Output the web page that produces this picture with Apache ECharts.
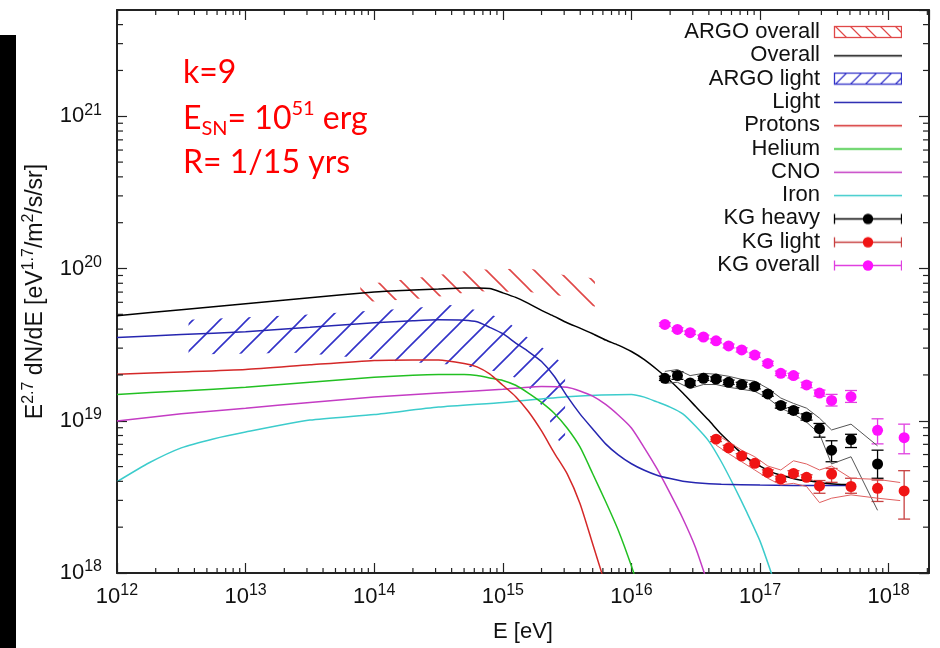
<!DOCTYPE html>
<html>
<head>
<meta charset="utf-8">
<title>E^2.7 dN/dE</title>
<script src="https://cdn.jsdelivr.net/npm/echarts@6.0.0/dist/echarts.min.js"></script>
<style>
html,body{margin:0;padding:0;background:#fff;}
#chart{width:940px;height:648px;}
</style>
</head>
<body>
<div id="chart"></div>
<script>
var FONT = '"Liberation Sans", Arial, sans-serif';
var X_MIN = 1e12, X_MAX = 2.06e18;
var Y_MIN = 1e18, Y_MAX = 4.99e21;

// model curves
var overallE    = [1e12, 3.16e12, 1e13, 3.16e13, 1e14, 2e14, 3.16e14, 5e14, 6.3e14, 7.9e14, 1e15, 1.26e15, 1.58e15, 2e15, 2.51e15, 3.16e15, 3.98e15, 5e15, 6.3e15, 7.9e15, 1e16, 1.26e16, 1.58e16, 2e16, 2.51e16, 3.16e16, 3.98e16, 5e16, 6.3e16, 7.9e16, 1e17, 1.26e17, 1.58e17, 2e17, 2.51e17, 3.16e17, 3.98e17, 5e17];
var overallFlux = [4.9e19, 5.36e19, 5.87e19, 6.42e19, 7.02e19, 7.23e19, 7.34e19, 7.45e19, 7.45e19, 7.38e19, 6.92e19, 6.46e19, 5.9e19, 5.31e19, 4.85e19, 4.4e19, 4.06e19, 3.73e19, 3.39e19, 3.14e19, 2.85e19, 2.52e19, 2.17e19, 1.83e19, 1.52e19, 1.24e19, 1.01e19, 8.15e18, 6.76e18, 5.71e18, 5.03e18, 4.56e18, 4.3e18, 4.1e18, 4.01e18, 3.89e18, 3.83e18, 3.81e18];

var lightCurveE    = [1e12, 3.16e12, 1e13, 3.16e13, 1e14, 2e14, 3.16e14, 5e14, 6.3e14, 7.9e14, 1e15, 1.26e15, 1.58e15, 2e15, 2.51e15, 3.16e15, 3.98e15, 5e15, 6.3e15, 7.9e15, 1e16, 1.26e16, 1.58e16, 2e16, 2.51e16, 3.16e16, 5e16, 1e17, 3.16e17, 5e17];
var lightCurveFlux = [3.52e19, 3.68e19, 3.85e19, 4.11e19, 4.4e19, 4.54e19, 4.61e19, 4.58e19, 4.47e19, 4.11e19, 3.73e19, 3.24e19, 2.85e19, 2.45e19, 1.96e19, 1.45e19, 1.11e19, 8.83e18, 7.05e18, 5.97e18, 5.22e18, 4.73e18, 4.39e18, 4.17e18, 4.01e18, 3.92e18, 3.83e18, 3.78e18, 3.75e18, 3.75e18];

var protonE    = [1e12, 3.16e12, 1e13, 3.16e13, 1e14, 2e14, 3.16e14, 5e14, 6.3e14, 7.9e14, 1e15, 1.26e15, 1.58e15, 2e15, 2.51e15, 3.16e15, 3.98e15, 5e15, 6.3e15];
var protonFlux = [2.02e19, 2.09e19, 2.17e19, 2.33e19, 2.49e19, 2.51e19, 2.51e19, 2.38e19, 2.26e19, 2.03e19, 1.71e19, 1.44e19, 1.15e19, 8.57e18, 6.15e18, 4.49e18, 2.86e18, 1.55e18, 8.3e17];

var heliumE    = [1e12, 3.16e12, 1e13, 3.16e13, 1e14, 2e14, 3.16e14, 5e14, 6.3e14, 7.9e14, 1e15, 1.26e15, 1.58e15, 2e15, 2.51e15, 3.16e15, 3.98e15, 5e15, 6.3e15, 7.9e15, 1e16, 1.26e16];
var heliumFlux = [1.49e19, 1.57e19, 1.66e19, 1.79e19, 1.93e19, 1.99e19, 2.01e19, 2.01e19, 1.98e19, 1.91e19, 1.84e19, 1.71e19, 1.52e19, 1.32e19, 1.12e19, 8.96e18, 6.73e18, 4.49e18, 2.95e18, 1.91e18, 1.11e18, 6.1e17];

var cnoE    = [1e12, 3.16e12, 1e13, 3.16e13, 1e14, 3.16e14, 1e15, 2e15, 3.16e15, 3.98e15, 5e15, 6.3e15, 7.9e15, 1e16, 1.26e16, 1.58e16, 2e16, 2.51e16, 3.16e16, 3.98e16];
var cnoFlux = [9.95e18, 1.11e19, 1.21e19, 1.32e19, 1.43e19, 1.52e19, 1.61e19, 1.68e19, 1.66e19, 1.57e19, 1.45e19, 1.28e19, 1.09e19, 8.96e18, 6.64e18, 4.84e18, 3.33e18, 2.28e18, 1.46e18, 8.2e17];

var ironE    = [1e12, 1.78e12, 3.16e12, 5.6e12, 1e13, 3.16e13, 1e14, 3.16e14, 1e15, 3.16e15, 1e16, 1.26e16, 1.58e16, 2e16, 2.51e16, 3.16e16, 3.98e16, 5e16, 6.3e16, 7.9e16, 1e17, 1.26e17];
var ironFlux = [3.98e18, 5.3e18, 6.64e18, 7.6e18, 8.44e18, 1.01e19, 1.1e19, 1.23e19, 1.32e19, 1.44e19, 1.49e19, 1.43e19, 1.33e19, 1.23e19, 1.11e19, 9.2e18, 7.38e18, 5.38e18, 3.7e18, 2.5e18, 1.62e18, 9.3e17];

// ARGO bands
var argoAllE    = [7.8e13, 2.7e14, 6e14, 1.6e15, 2.9e15, 5.2e15];
var argoAllLow  = [6.0e19, 6.4e19, 7.1e19, 7.0e19, 6.6e19, 5.6e19];
var argoAllHigh = [7.8e19, 8.9e19, 9.8e19, 1.0e20, 9.1e19, 8.6e19];

var argoLightE    = [3.6e12, 2.65e13, 1.58e14, 3.88e14, 6.65e14, 1.04e15, 1.49e15, 2.13e15, 3.05e15];
var argoLightLow  = [2.72e19, 2.8e19, 2.45e19, 2.34e19, 2.21e19, 2.05e19, 1.79e19, 1.17e19, 5.97e18];
var argoLightHigh = [4.6e19, 4.96e19, 5.43e19, 5.77e19, 5.27e19, 4.6e19, 3.62e19, 2.94e19, 2.31e19];

// KASCADE-Grande points
var kgAllE    = [1.82e16, 2.28e16, 2.86e16, 3.63e16, 4.55e16, 5.7e16, 7.2e16, 9.1e16, 1.15e17, 1.45e17, 1.82e17, 2.3e17, 2.9e17, 3.6e17, 5.1e17, 8.2e17, 1.32e18];
var kgAllFlux = [4.29e19, 3.98e19, 3.79e19, 3.55e19, 3.35e19, 3.10e19, 2.92e19, 2.70e19, 2.38e19, 2.05e19, 1.98e19, 1.72e19, 1.52e19, 1.36e19, 1.44e19, 8.65e18, 7.74e18];
var kgAllLo   = [4.18e19, 3.88e19, 3.69e19, 3.45e19, 3.25e19, 3.01e19, 2.83e19, 2.61e19, 2.30e19, 1.98e19, 1.91e19, 1.65e19, 1.45e19, 1.25e19, 1.32e19, 7.05e18, 6.07e18];
var kgAllHi   = [4.40e19, 4.08e19, 3.89e19, 3.65e19, 3.45e19, 3.19e19, 3.01e19, 2.79e19, 2.46e19, 2.12e19, 2.05e19, 1.79e19, 1.59e19, 1.49e19, 1.58e19, 1.03e19, 9.5e18];

var kgHeavyE    = [1.82e16, 2.28e16, 2.86e16, 3.63e16, 4.55e16, 5.7e16, 7.2e16, 9.1e16, 1.15e17, 1.45e17, 1.82e17, 2.3e17, 2.9e17, 3.6e17, 5.1e17, 8.2e17];
var kgHeavyFlux = [1.90e19, 1.98e19, 1.77e19, 1.90e19, 1.88e19, 1.79e19, 1.73e19, 1.68e19, 1.50e19, 1.26e19, 1.17e19, 1.06e19, 8.87e18, 6.41e18, 7.52e18, 5.2e18];
var kgHeavyLo   = [1.84e19, 1.87e19, 1.71e19, 1.84e19, 1.82e19, 1.73e19, 1.67e19, 1.62e19, 1.45e19, 1.21e19, 1.12e19, 1.01e19, 7.8e18, 5.38e18, 6.67e18, 4.19e18];
var kgHeavyHi   = [1.96e19, 2.10e19, 1.83e19, 1.96e19, 1.94e19, 1.85e19, 1.79e19, 1.74e19, 1.55e19, 1.31e19, 1.22e19, 1.11e19, 9.6e18, 7.39e18, 8.15e18, 6.41e18];
var kgHeavySysHi = [2.11e19, 2.17e19, 1.98e19, 2.05e19, 2.02e19, 1.96e19, 1.87e19, 1.82e19, 1.63e19, 1.41e19, 1.30e19, 1.21e19, 1.04e19, 8.7e18, 9.5e18, 6.84e18];
var kgHeavySysLo = [1.76e19, 1.79e19, 1.63e19, 1.73e19, 1.73e19, 1.66e19, 1.61e19, 1.56e19, 1.41e19, 1.21e19, 1.11e19, 9.8e18, 8.2e18, 5.2e18, 5.8e18, 2.58e18];

var kgLightE    = [4.55e16, 5.7e16, 7.2e16, 9.1e16, 1.15e17, 1.45e17, 1.82e17, 2.3e17, 2.9e17, 3.6e17, 5.1e17, 8.2e17, 1.32e18];
var kgLightFlux = [7.57e18, 6.64e18, 5.86e18, 5.25e18, 4.58e18, 4.15e18, 4.51e18, 4.25e18, 3.73e18, 4.47e18, 3.70e18, 3.6e18, 3.46e18];
var kgLightLo   = [7.3e18, 6.4e18, 5.65e18, 5.05e18, 4.4e18, 3.98e18, 4.33e18, 4.08e18, 3.34e18, 3.94e18, 3.34e18, 2.95e18, 2.26e18];
var kgLightHi   = [7.85e18, 6.9e18, 6.08e18, 5.45e18, 4.76e18, 4.32e18, 4.7e18, 4.42e18, 4.05e18, 4.86e18, 4.19e18, 4.08e18, 4.7e18];
var kgLightSysE  = [4.55e16, 5.7e16, 7.2e16, 9.1e16, 1.15e17, 1.45e17, 1.82e17, 2.3e17, 2.9e17, 3.6e17, 5.1e17, 8.2e17, 1.23e18];
var kgLightSysHi = [8.15e18, 7.26e18, 6.41e18, 5.80e18, 5.04e18, 4.75e18, 5.46e18, 5.2e18, 4.75e18, 5.04e18, 4.19e18, 4.12e18, 3.93e18];
var kgLightSysLo = [6.92e18, 6.09e18, 5.38e18, 4.75e18, 4.19e18, 3.79e18, 3.88e18, 3.70e18, 2.9e18, 3.10e18, 3.26e18, 3.10e18, 2.99e18];

var C = {
	argoAll: '#e04848', overall: '#000000', argoLight: '#3232c8', light: '#2626b0',
	proton: '#d42828', helium: '#22c022', cno: '#c43cc4', iron: '#3ccccc',
	heavy: '#000000', kgLight: '#f01414', kgLightBar: '#c84040', kgAll: '#ff10ff', kgAllBar: '#e040e0'
};

function pairs(xs, ys) {
	return xs.map(function (x, i) { return [x, ys[i]]; });
}

// hatch tile for the ARGO bands
function hatchTile(color, size, dir) {
	var c = document.createElement('canvas');
	c.width = size; c.height = size;
	var ctx = c.getContext('2d');
	ctx.strokeStyle = color;
	ctx.lineWidth = 1.6;
	ctx.beginPath();
	if (dir === '/') {
		ctx.moveTo(-2, size + 2); ctx.lineTo(size + 2, -2);
		ctx.moveTo(-2, 2); ctx.lineTo(2, -2);
		ctx.moveTo(size - 2, size + 2); ctx.lineTo(size + 2, size - 2);
	} else {
		ctx.moveTo(-2, -2); ctx.lineTo(size + 2, size + 2);
		ctx.moveTo(size - 2, -2); ctx.lineTo(size + 2, 2);
		ctx.moveTo(-2, size - 2); ctx.lineTo(2, size + 2);
	}
	ctx.stroke();
	return c;
}

function legendIcon(kind, color, barColor) {
	var c = document.createElement('canvas');
	c.width = 77; c.height = 14;
	var ctx = c.getContext('2d');
	var x0 = 9, x1 = 77;
	ctx.strokeStyle = color;
	ctx.lineWidth = 1.3;
	if (kind === 'line') {
		ctx.beginPath(); ctx.moveTo(x0, 7.5); ctx.lineTo(x1, 7.5); ctx.stroke();
	} else if (kind === '/' || kind === '\\') {
		ctx.strokeRect(x0 + 0.5, 1.5, x1 - x0 - 1, 11);
		ctx.save();
		ctx.beginPath(); ctx.rect(x0 + 1, 2, x1 - x0 - 2, 10); ctx.clip();
		ctx.beginPath();
		for (var x = x0 - 14; x < x1 + 14; x += 15) {
			if (kind === '/') { ctx.moveTo(x, 13); ctx.lineTo(x + 12, 1); }
			else { ctx.moveTo(x, 1); ctx.lineTo(x + 12, 13); }
		}
		ctx.stroke();
		ctx.restore();
	} else {
		ctx.strokeStyle = barColor;
		ctx.beginPath();
		ctx.moveTo(x0 + 0.5, 7.5); ctx.lineTo(x1 - 0.5, 7.5);
		ctx.moveTo(x0 + 0.5, 2.5); ctx.lineTo(x0 + 0.5, 12.5);
		ctx.moveTo(x1 - 0.5, 2.5); ctx.lineTo(x1 - 0.5, 12.5);
		ctx.stroke();
		ctx.fillStyle = color;
		ctx.beginPath(); ctx.arc((x0 + x1) / 2, 7.5, 5.2, 0, Math.PI * 2); ctx.fill();
	}
	return 'image://' + c.toDataURL();
}

function bandRenderer(E, lo, hi, pattern) {
	return function (params, api) {
		if (params.dataIndex !== 0) return;
		var pts = [];
		for (var i = 0; i < E.length; i++) pts.push(api.coord([E[i], hi[i]]));
		for (i = E.length - 1; i >= 0; i--) pts.push(api.coord([E[i], lo[i]]));
		return { type: 'polygon', shape: { points: pts }, style: { fill: pattern, stroke: null } };
	};
}

function errRenderer(color) {
	return function (params, api) {
		var x = api.value(0);
		var lo = api.coord([x, api.value(2)]);
		var hi = api.coord([x, api.value(3)]);
		var c = 6;
		var st = { stroke: color, lineWidth: 1.3 };
		return { type: 'group', children: [
			{ type: 'line', shape: { x1: lo[0], y1: lo[1], x2: hi[0], y2: hi[1] }, style: st },
			{ type: 'line', shape: { x1: lo[0] - c, y1: lo[1], x2: lo[0] + c, y2: lo[1] }, style: st },
			{ type: 'line', shape: { x1: hi[0] - c, y1: hi[1], x2: hi[0] + c, y2: hi[1] }, style: st }
		]};
	};
}

// log minor ticks (2..9) on all four sides
function renderMinorTicks(params, api) {
	var st = { stroke: '#222', lineWidth: 1.2 };
	var kids = [];
	var len = 5, n, k, e, a, b;
	for (n = 12; n <= 18; n++) {
		for (k = 2; k <= 9; k++) {
			e = k * Math.pow(10, n);
			if (e >= X_MAX) continue;
			a = api.coord([e, Y_MIN]); b = api.coord([e, Y_MAX]);
			kids.push({ type: 'line', shape: { x1: a[0], y1: a[1], x2: a[0], y2: a[1] - len }, style: st });
			kids.push({ type: 'line', shape: { x1: b[0], y1: b[1], x2: b[0], y2: b[1] + len }, style: st });
		}
	}
	for (n = 18; n <= 21; n++) {
		for (k = 2; k <= 9; k++) {
			e = k * Math.pow(10, n);
			if (e >= Y_MAX) continue;
			a = api.coord([X_MIN, e]); b = api.coord([X_MAX, e]);
			kids.push({ type: 'line', shape: { x1: a[0], y1: a[1], x2: a[0] + len + 1, y2: a[1] }, style: st });
			kids.push({ type: 'line', shape: { x1: b[0], y1: b[1], x2: b[0] - len - 1, y2: b[1] }, style: st });
		}
	}
	return { type: 'group', children: kids };
}

function powLabel(v) {
	var p = Math.log10(v);
	var n = Math.round(p);
	if (Math.abs(p - n) > 1e-6) return '';
	return '{b|10}{s|' + n + '}';
}

var tickRich = {
	b: { fontSize: 22, fontFamily: FONT, color: '#111', lineHeight: 28 },
	s: { fontSize: 16, fontFamily: FONT, color: '#111', lineHeight: 14, verticalAlign: 'top' }
};
var axisLineStyle = { color: '#222', width: 2 };
var majorTick = { inside: true, length: 10, lineStyle: { color: '#222', width: 1.2 } };

var RED_FONT = 'Lato, "Open Sans", sans-serif';
var redRich = {
	m: { fontSize: 32, fontFamily: RED_FONT, fill: '#ff0000', lineHeight: 40 },
	sub: { fontSize: 20, fontFamily: RED_FONT, fill: '#ff0000', lineHeight: 20, verticalAlign: 'bottom' },
	sup: { fontSize: 20, fontFamily: RED_FONT, fill: '#ff0000', lineHeight: 24, verticalAlign: 'top' }
};

function lineSeries(name, E, flux, color) {
	return {
		name: name, type: 'line', showSymbol: false, smooth: 0.2,
		data: pairs(E, flux),
		lineStyle: { color: color, width: 1.5 }, itemStyle: { color: color }
	};
}

var chart = echarts.init(document.getElementById('chart'), null, { renderer: 'canvas' });

var option = {
	backgroundColor: '#ffffff',
	animation: false,
	grid: { left: 117, right: 11, top: 10, bottom: 71 },
	legend: {
		orient: 'vertical', right: 38, top: 21, align: 'right', padding: 0,
		itemWidth: 77, itemHeight: 14, itemGap: 1.3,
		selectedMode: false,
		textStyle: { fontSize: 22, fontFamily: FONT, color: '#111' },
		data: [
			{ name: 'ARGO overall', icon: legendIcon('\\', C.argoAll) },
			{ name: 'Overall', icon: legendIcon('line', C.overall) },
			{ name: 'ARGO light', icon: legendIcon('/', C.argoLight) },
			{ name: 'Light', icon: legendIcon('line', C.light) },
			{ name: 'Protons', icon: legendIcon('line', C.proton) },
			{ name: 'Helium', icon: legendIcon('line', C.helium) },
			{ name: 'CNO', icon: legendIcon('line', C.cno) },
			{ name: 'Iron', icon: legendIcon('line', C.iron) },
			{ name: 'KG heavy', icon: legendIcon('err', C.heavy, C.heavy) },
			{ name: 'KG light', icon: legendIcon('err', C.kgLight, C.kgLightBar) },
			{ name: 'KG overall', icon: legendIcon('err', C.kgAll, C.kgAllBar) }
		]
	},
	xAxis: [
		{
			type: 'log', min: X_MIN, max: X_MAX, position: 'bottom',
			name: 'E [eV]', nameLocation: 'middle', nameGap: 48,
			nameTextStyle: { fontSize: 22, fontFamily: FONT, color: '#111' },
			axisLine: { lineStyle: axisLineStyle },
			axisTick: majorTick,
			splitLine: { show: false },
			axisLabel: { margin: 10, formatter: powLabel, rich: tickRich, showMaxLabel: false }
		},
		{
			type: 'log', min: X_MIN, max: X_MAX, position: 'top',
			axisLine: { lineStyle: axisLineStyle },
			axisTick: majorTick, axisLabel: { show: false }, splitLine: { show: false }
		}
	],
	yAxis: [
		{
			type: 'log', min: Y_MIN, max: Y_MAX, position: 'left',
			name: '{m|E}{s|2.7}{m| dN/dE [eV}{s|1.7}{m|/m}{s|2}{m|/s/sr]}',
			nameLocation: 'middle', nameRotate: 90, nameGap: 66,
			nameTextStyle: { rich: {
				m: { fontSize: 23, fontFamily: FONT, color: '#111', lineHeight: 30 },
				s: { fontSize: 16, fontFamily: FONT, color: '#111', lineHeight: 16, verticalAlign: 'top' }
			} },
			axisLine: { lineStyle: axisLineStyle },
			axisTick: majorTick,
			splitLine: { show: false },
			axisLabel: { margin: 15, formatter: powLabel, rich: tickRich, showMaxLabel: false }
		},
		{
			type: 'log', min: Y_MIN, max: Y_MAX, position: 'right',
			axisLine: { lineStyle: axisLineStyle },
			axisTick: majorTick, axisLabel: { show: false }, splitLine: { show: false }
		}
	],
	graphic: [
		{ type: 'rect', shape: { x: 0, y: 35, width: 16, height: 613 }, style: { fill: '#000' } },
		{ type: 'text', x: 183, y: 53, style: { text: '{m|k=9}', rich: redRich } },
		{ type: 'text', x: 183, y: 99, style: { text: '{m|E}{sub|SN}{m|= 10}{sup|51}{m| erg}', rich: redRich } },
		{ type: 'text', x: 183, y: 143, style: { text: '{m|R= 1/15 yrs}', rich: redRich } }
	],
	series: [
		{
			name: 'ARGO overall', type: 'custom', z: 1,
			renderItem: bandRenderer(argoAllE, argoAllLow, argoAllHigh, { image: hatchTile(C.argoAll, 24, '\\'), repeat: 'repeat' }),
			data: argoAllE.map(function (e, i) { return [e, argoAllLow[i], argoAllHigh[i]]; }),
			encode: { x: 0, y: [1, 2] }
		},
		{
			name: 'ARGO light', type: 'custom', z: 1,
			renderItem: bandRenderer(argoLightE, argoLightLow, argoLightHigh, { image: hatchTile(C.argoLight, 27, '/'), repeat: 'repeat' }),
			data: argoLightE.map(function (e, i) { return [e, argoLightLow[i], argoLightHigh[i]]; }),
			encode: { x: 0, y: [1, 2] }
		},
		lineSeries('Iron', ironE, ironFlux, C.iron),
		lineSeries('CNO', cnoE, cnoFlux, C.cno),
		lineSeries('Helium', heliumE, heliumFlux, C.helium),
		lineSeries('Protons', protonE, protonFlux, C.proton),
		lineSeries('Light', lightCurveE, lightCurveFlux, C.light),
		lineSeries('Overall', overallE, overallFlux, C.overall),
		{ name: 'KG heavy sys+', type: 'line', showSymbol: false, data: pairs(kgHeavyE, kgHeavySysHi), lineStyle: { color: '#555', width: 1 } },
		{ name: 'KG heavy sys-', type: 'line', showSymbol: false, data: pairs(kgHeavyE, kgHeavySysLo), lineStyle: { color: '#555', width: 1 } },
		{ name: 'KG light sys+', type: 'line', showSymbol: false, data: pairs(kgLightSysE, kgLightSysHi), lineStyle: { color: '#e06060', width: 1 } },
		{ name: 'KG light sys-', type: 'line', showSymbol: false, data: pairs(kgLightSysE, kgLightSysLo), lineStyle: { color: '#e06060', width: 1 } },
		{
			name: 'KG overall', type: 'custom', z: 3, renderItem: errRenderer(C.kgAllBar),
			data: kgAllE.map(function (e, i) { return [e, kgAllFlux[i], kgAllLo[i], kgAllHi[i]]; }),
			encode: { x: 0, y: [1, 2, 3] }
		},
		{
			name: 'KG heavy', type: 'custom', z: 3, renderItem: errRenderer(C.heavy),
			data: kgHeavyE.map(function (e, i) { return [e, kgHeavyFlux[i], kgHeavyLo[i], kgHeavyHi[i]]; }),
			encode: { x: 0, y: [1, 2, 3] }
		},
		{
			name: 'KG light', type: 'custom', z: 3, renderItem: errRenderer(C.kgLightBar),
			data: kgLightE.map(function (e, i) { return [e, kgLightFlux[i], kgLightLo[i], kgLightHi[i]]; }),
			encode: { x: 0, y: [1, 2, 3] }
		},
		{ name: 'KG overall', type: 'scatter', z: 4, symbolSize: 11, data: pairs(kgAllE, kgAllFlux), itemStyle: { color: C.kgAll, opacity: 1 } },
		{ name: 'KG heavy', type: 'scatter', z: 4, symbolSize: 11, data: pairs(kgHeavyE, kgHeavyFlux), itemStyle: { color: C.heavy, opacity: 1 } },
		{ name: 'KG light', type: 'scatter', z: 4, symbolSize: 11, data: pairs(kgLightE, kgLightFlux), itemStyle: { color: C.kgLight, opacity: 1 } },
		{
			name: 'minor ticks', type: 'custom', silent: true, z: 5, clip: false,
			renderItem: function (params, api) { return params.dataIndex === 0 ? renderMinorTicks(params, api) : null; },
			data: [[X_MIN, Y_MIN]], encode: { x: 0, y: 1 }
		}
	]
};

chart.setOption(option);
</script>
</body>
</html>
